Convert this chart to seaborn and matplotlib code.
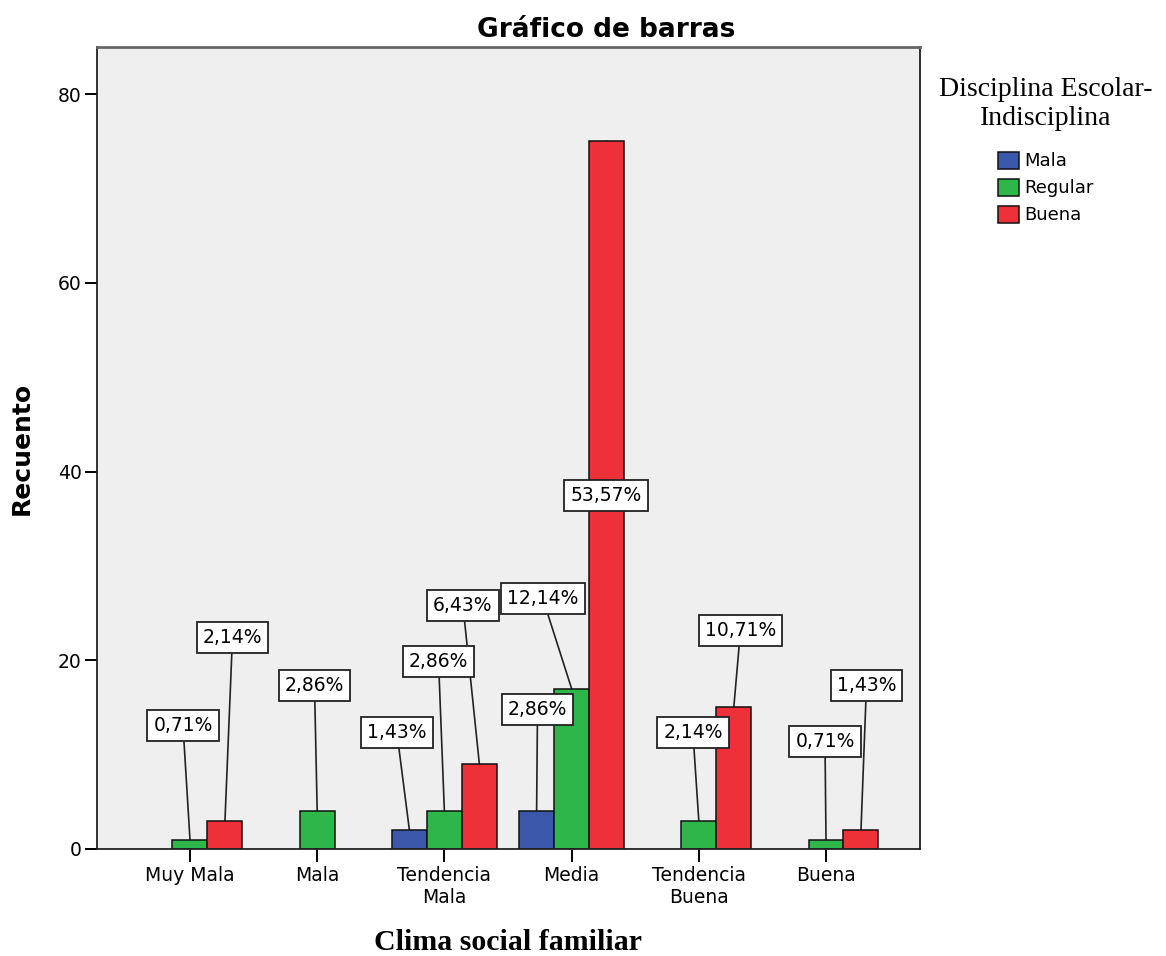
import numpy as np
import pandas as pd
import matplotlib.pyplot as plt
import seaborn as sns

# ---- data ----
categories = ["Muy Mala", "Mala", "Tendencia\nMala", "Media", "Tendencia\nBuena", "Buena"]
levels = ["Mala", "Regular", "Buena"]
count_mala = [0, 0, 2, 4, 0, 0]
count_regular = [1, 4, 4, 17, 3, 1]
count_buena = [3, 0, 9, 75, 15, 2]

# callout box centres (data units), keyed by (category index, level)
label_pos = {
    (0, "Regular"): (-0.055, 13.1),
    (0, "Buena"): (0.334, 22.4),
    (1, "Regular"): (0.979, 17.3),
    (2, "Mala"): (1.627, 12.3),
    (2, "Regular"): (1.954, 19.9),
    (2, "Buena"): (2.146, 25.8),
    (3, "Mala"): (2.732, 14.8),
    (3, "Regular"): (2.775, 26.5),
    (3, "Buena"): (3.27, 37.5),
    (4, "Regular"): (3.954, 12.3),
    (4, "Buena"): (4.328, 23.2),
    (5, "Regular"): (4.992, 11.4),
    (5, "Buena"): (5.318, 17.3),
}

palette = {"Mala": "#3C58AA", "Regular": "#2EB64A", "Buena": "#EE3039"}

# ---- long table; empty cells are dropped (SPSS leaves the slot empty) ----
counts = {"Mala": count_mala, "Regular": count_regular, "Buena": count_buena}
total = sum(count_mala) + sum(count_regular) + sum(count_buena)

rows = []
for i, cat in enumerate(categories):
    for lv in levels:
        if counts[lv][i] > 0:
            rows.append({"cat": cat, "idx": i, "level": lv, "count": counts[lv][i]})
df = pd.DataFrame(rows)

group_w = 0.825                 # width of the three dodged bars together
bar_w = group_w / len(levels)

# ---- plot ----
fig = plt.figure(figsize=(11.66, 9.56), dpi=100)
ax = fig.add_axes([97 / 1166, 1 - 849 / 956, 823 / 1166, 802 / 956])
ax.set_facecolor("#EFEFEF")

sns.barplot(data=df, x="cat", y="count", hue="level", order=categories,
            hue_order=levels, palette=palette, saturation=1, dodge=True,
            width=group_w, errorbar=None, edgecolor="#111111", linewidth=1.1, ax=ax)

ax.set_xlim(-0.731, 5.739)
ax.set_ylim(0, 85)
ax.set_yticks([0, 20, 40, 60, 80])
ax.tick_params(axis="y", labelsize=13.5, length=9, width=1.4, pad=2)
ax.tick_params(axis="x", labelsize=13.5, length=9, width=1.4, pad=3)

for side in ["left", "bottom", "right"]:
    ax.spines[side].set_color("#222222")
    ax.spines[side].set_linewidth(1.3)
ax.spines["top"].set_color("#666666")
ax.spines["top"].set_linewidth(2)

# callouts: leader lines behind the bars, boxes on top
for _, r in df.iterrows():
    bx = r["idx"] + (levels.index(r["level"]) - 1) * bar_w
    lx, ly = label_pos[(r["idx"], r["level"])]
    ax.plot([lx, bx], [ly, r["count"]], color="#222222", lw=1.2, zorder=0.5)
    pct = f"{r['count'] / total * 100:.2f}%".replace(".", ",")
    ax.text(lx, ly, pct, ha="center", va="center", fontsize=13.5, zorder=5,
            bbox=dict(boxstyle="square,pad=0.32", fc="white", ec="#222222", lw=1.3))

ax.set_title("Gráfico de barras", fontsize=19, fontweight="bold", pad=7, x=0.6185)
ax.set_ylabel("Recuento", fontsize=18, fontweight="bold")
ax.yaxis.set_label_coords(-0.077, 0.5)
ax.set_xlabel("Clima social familiar", fontsize=21.5, fontweight="bold",
              family="Liberation Serif")
ax.xaxis.set_label_coords(0.5, -0.1)

old = ax.get_legend()
handles = old.legend_handles
labels = [t.get_text() for t in old.get_texts()]
leg = ax.legend(handles, labels, title="Disciplina Escolar-\nIndisciplina",
                title_fontproperties={"family": "Liberation Serif", "size": 20},
                fontsize=13, frameon=False, loc="upper center",
                bbox_to_anchor=(1046 / 1166, 1 - 68 / 956),
                bbox_transform=fig.transFigure,
                borderpad=0, handlelength=1.15, handleheight=1.1,
                handletextpad=0.3, labelspacing=0.45)
leg.get_title().set_multialignment("center")
leg._legend_box.sep = 15   # more room between title and entries

plt.savefig("out.png", dpi=100)
